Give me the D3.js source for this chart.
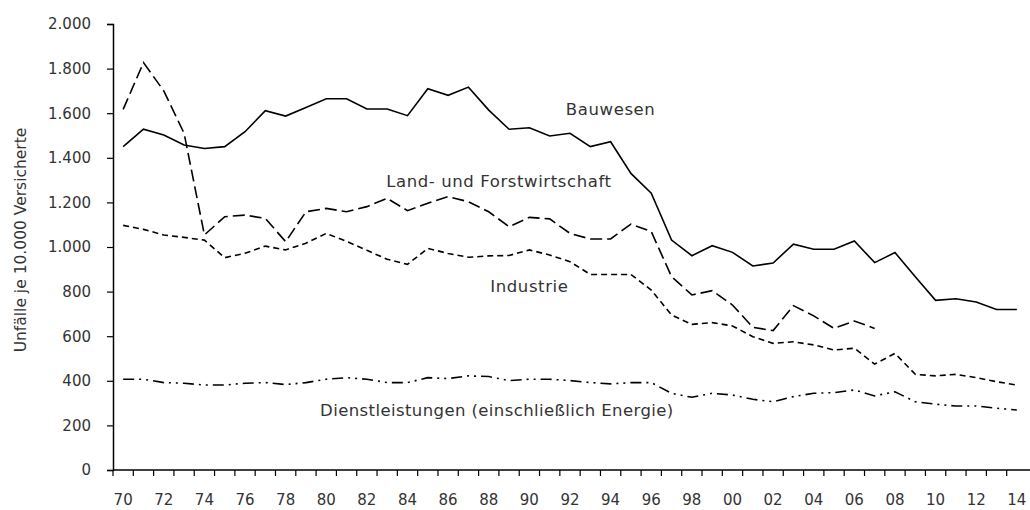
<!DOCTYPE html>
<html>
<head>
<meta charset="utf-8">
<script src="https://cdn.jsdelivr.net/npm/d3@7"></script>
<style>
  body { margin: 0; background: #fff; }
  text { font-family: "DejaVu Sans", sans-serif; fill: #333; }
</style>
</head>
<body>
<div id="chart"></div>
<script>
// years 1970..2014
const years = d3.range(1970, 2015);
const yTicks = [0, 200, 400, 600, 800, 1000, 1200, 1400, 1600, 1800, 2000];

const bauwesen = [1450, 1528, 1502, 1457, 1442, 1450, 1517, 1611, 1587, 1626,
  1665, 1665, 1619, 1619, 1589, 1710, 1680, 1717, 1614, 1528,
  1535, 1498, 1510, 1450, 1472, 1330, 1241, 1031, 961, 1006,
  976, 915, 928, 1013, 990, 990, 1027, 930, 975, 867,
  761, 768, 753, 720, 720];

// ends in 2007
const landForst = [1617, 1827, 1700, 1510, 1054, 1136, 1143, 1128, 1024, 1158,
  1173, 1158, 1181, 1218, 1163, 1196, 1226, 1203, 1158, 1091,
  1133, 1126, 1061, 1036, 1036, 1103, 1069, 867, 785, 804,
  740, 640, 625, 737, 691, 635, 668, 635];

const industrie = [1097, 1079, 1054, 1043, 1031, 952, 972, 1004, 987, 1017,
  1061, 1025, 985, 945, 922, 994, 971, 954, 960, 962,
  987, 964, 934, 877, 877, 877, 807, 695, 653, 661,
  646, 598, 568, 575, 561, 538, 546, 475, 523, 429,
  422, 429, 414, 396, 381];

const dienst = [407, 407, 392, 389, 381, 381, 389, 392, 383, 392,
  407, 414, 407, 392, 392, 414, 410, 422, 419, 401,
  407, 407, 401, 392, 386, 392, 392, 344, 326, 344,
  336, 317, 306, 329, 344, 347, 359, 332, 351, 306,
  295, 287, 287, 277, 269];

const series = [
  { name: "Bauwesen", values: bauwesen, dash: null },
  { name: "Land- und Forstwirtschaft", values: landForst, dash: "12,5" },
  { name: "Industrie", values: industrie, dash: "6,4" },
  { name: "Dienstleistungen (einschließlich Energie)", values: dienst, dash: "11,5,2,5,2,5" }
];

const labels = [
  { text: "Bauwesen", year: 1994, value: 1592 },
  { text: "Land- und Forstwirtschaft", year: 1988.5, value: 1270 },
  { text: "Industrie", year: 1990, value: 800 },
  { text: "Dienstleistungen (einschließlich Energie)", year: 1988.4, value: 242 }
];

const width = 1030, height = 510;
const margin = { top: 24, right: 3, bottom: 40, left: 113 };

const svg = d3.select("#chart").append("svg")
  .attr("width", width)
  .attr("height", height);

const x = d3.scaleBand()
  .domain(years)
  .range([margin.left, width - margin.right]);

const y = d3.scaleLinear()
  .domain([0, 2000])
  .range([height - margin.bottom, margin.top]);

const fmt = d3.format(",");
const deFormat = v => fmt(v).replace(/,/g, ".");

// y axis
const yAxis = svg.append("g")
  .attr("transform", `translate(${margin.left},0)`)
  .call(d3.axisLeft(y).tickValues(yTicks).tickFormat(deFormat).tickSizeOuter(0).tickSize(6).tickPadding(16));

// x axis: ticks at band edges, labels every second year
const xAxisG = svg.append("g")
  .attr("transform", `translate(0,${height - margin.bottom})`);

xAxisG.append("line")
  .attr("x1", margin.left).attr("x2", width)
  .attr("stroke", "#000").attr("stroke-width", 1.5);

xAxisG.selectAll("line.tick")
  .data(years)
  .enter().append("line")
  .attr("class", "tick")
  .attr("x1", d => x(d)).attr("x2", d => x(d))
  .attr("y1", 0).attr("y2", 6)
  .attr("stroke", "#000").attr("stroke-width", 1.2);

xAxisG.selectAll("text")
  .data(years.filter(d => d % 2 === 0))
  .enter().append("text")
  .attr("x", d => x(d) + x.bandwidth() / 2)
  .attr("y", 35)
  .attr("text-anchor", "middle")
  .attr("font-size", 15)
  .text(d => String(d % 100).padStart(2, "0"));

yAxis.select(".domain").attr("stroke", "#000").attr("stroke-width", 1.5);
yAxis.selectAll(".tick line").attr("stroke", "#000").attr("stroke-width", 1.2);
yAxis.selectAll(".tick text").attr("font-size", 15).style("font-family", "DejaVu Sans, sans-serif").attr("fill", "#333");

// y axis title
svg.append("text")
  .attr("transform", `translate(26,240) rotate(-90)`)
  .attr("text-anchor", "middle")
  .attr("font-size", 15.5)
  .text("Unfälle je 10.000 Versicherte");

// lines
const line = d3.line()
  .x((d, i) => x(years[i]) + x.bandwidth() / 2)
  .y(d => y(d));

svg.selectAll("path.series")
  .data(series)
  .enter().append("path")
  .attr("class", "series")
  .attr("d", d => line(d.values))
  .attr("fill", "none")
  .attr("stroke", "#000")
  .attr("stroke-width", 1.6)
  .attr("stroke-dasharray", d => d.dash);

// line labels
const xYear = yr => x(1970) + x.bandwidth() / 2 + (yr - 1970) * x.step();

svg.selectAll("text.label")
  .data(labels)
  .enter().append("text")
  .attr("class", "label")
  .attr("x", d => xYear(d.year))
  .attr("y", d => y(d.value))
  .attr("text-anchor", "middle")
  .attr("font-size", 16.5)
  .attr("letter-spacing", d => d.text.length > 30 ? 0.4 : 0.6)
  .text(d => d.text);
</script>
</body>
</html>
